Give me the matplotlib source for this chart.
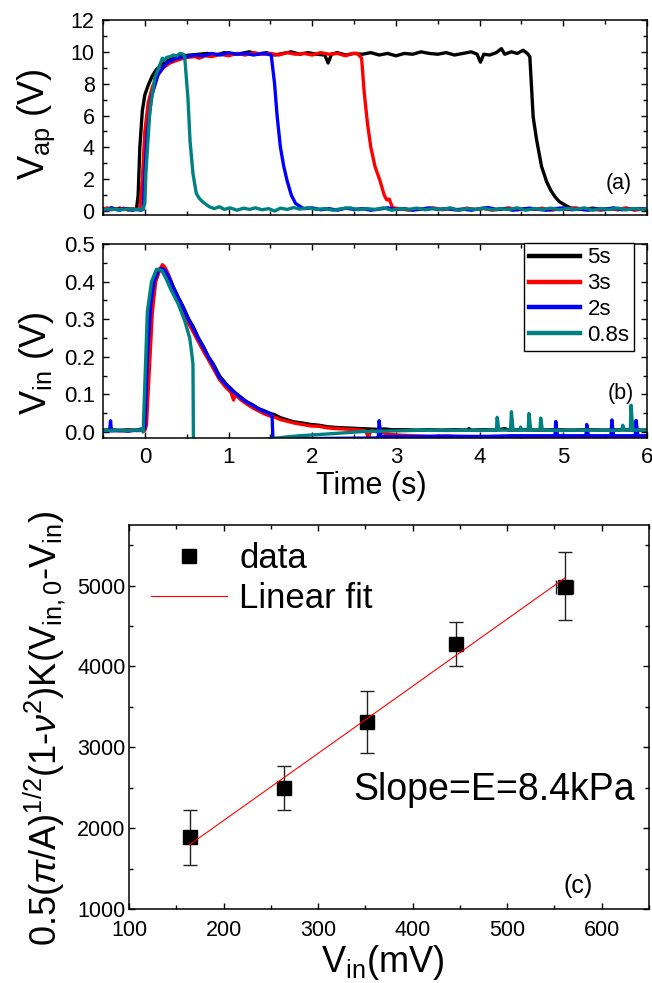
import matplotlib
matplotlib.use('Agg')
import matplotlib.pyplot as plt
from matplotlib.ticker import MultipleLocator, FormatStrFormatter

plt.rcParams['font.family'] = ['Liberation Sans', 'DejaVu Sans']
plt.rcParams['mathtext.fontset'] = 'custom'
plt.rcParams['mathtext.rm'] = 'Liberation Sans'
plt.rcParams['mathtext.it'] = 'Liberation Sans:italic'
plt.rcParams['mathtext.bf'] = 'Liberation Sans:bold'

# ---------------- data: panel (a)  V_ap vs time ----------------
series_labels = ['5s', '3s', '2s', '0.8s']
series_colors = ['#000000', '#ff0000', '#0000ff', '#008080']

vap_5s = [(-0.50, 0.15), (-0.45, 0.10), (-0.40, 0.20), (-0.35, 0.12), (-0.30, 0.18), (-0.25, 0.10),
          (-0.20, 0.15), (-0.15, 0.08), (-0.10, 0.12), (-0.08, 1.0), (-0.06, 4.0), (-0.03, 6.3),
          (0.00, 7.3), (0.04, 7.9), (0.09, 8.5), (0.14, 8.9), (0.20, 9.2), (0.27, 9.45), (0.35, 9.6),
          (0.45, 9.75), (0.55, 9.8), (0.65, 9.85), (0.75, 9.9), (0.85, 9.8), (0.95, 9.95), (1.05, 9.85),
          (1.15, 9.9), (1.25, 10.0), (1.35, 9.85), (1.45, 9.95), (1.55, 9.8), (1.65, 9.9), (1.75, 10.0),
          (1.85, 9.85), (1.95, 9.95), (2.05, 9.85), (2.15, 9.8), (2.19, 9.3), (2.23, 9.85), (2.30, 9.95),
          (2.40, 9.8), (2.50, 9.9), (2.60, 9.85), (2.70, 9.95), (2.80, 9.8), (2.90, 9.9), (3.00, 9.75),
          (3.10, 9.9), (3.20, 9.85), (3.30, 10.0), (3.40, 9.9), (3.50, 9.85), (3.60, 9.95), (3.70, 9.8),
          (3.80, 9.9), (3.90, 10.0), (3.97, 9.85), (4.01, 9.35), (4.05, 9.85), (4.12, 9.8), (4.20, 9.95),
          (4.26, 10.2), (4.30, 9.85), (4.38, 10.0), (4.45, 9.9), (4.52, 10.1), (4.57, 9.9), (4.60, 9.7),
          (4.64, 5.9), (4.68, 4.5), (4.74, 2.8), (4.80, 1.85), (4.85, 1.3), (4.90, 0.9), (4.95, 0.6),
          (5.00, 0.44), (5.08, 0.2), (5.15, 0.15), (5.25, 0.1), (5.35, 0.18), (5.45, 0.1), (5.55, 0.15),
          (5.65, 0.08), (5.75, 0.15), (5.85, 0.1), (5.95, 0.12), (6.00, 0.1)]

vap_3s = [(-0.50, 0.12), (-0.45, 0.2), (-0.40, 0.08), (-0.35, 0.15), (-0.30, 0.1), (-0.25, 0.18),
          (-0.20, 0.05), (-0.15, 0.15), (-0.10, 0.1), (-0.06, 0.12), (-0.03, 2.0), (0.00, 5.0),
          (0.04, 6.8), (0.09, 7.8), (0.15, 8.5), (0.22, 9.0), (0.30, 9.3), (0.40, 9.5), (0.50, 9.65),
          (0.60, 9.7), (0.65, 9.6), (0.72, 9.75), (0.80, 9.7), (0.90, 9.85), (1.00, 9.75), (1.10, 9.9),
          (1.20, 9.8), (1.30, 9.95), (1.40, 9.85), (1.50, 9.9), (1.60, 9.8), (1.70, 9.95), (1.80, 9.85),
          (1.90, 9.9), (2.00, 9.8), (2.10, 9.95), (2.20, 9.85), (2.30, 9.9), (2.40, 9.75), (2.48, 9.9),
          (2.54, 9.9), (2.59, 9.6), (2.62, 7.5), (2.66, 5.5), (2.70, 4.0), (2.75, 2.8), (2.81, 1.9),
          (2.86, 1.0), (2.89, 0.7), (2.92, 0.75), (2.96, 0.2), (3.05, 0.15), (3.15, 0.05), (3.25, 0.15),
          (3.35, 0.1), (3.45, 0.2), (3.55, 0.08), (3.65, 0.15), (3.75, 0.05), (3.85, 0.18), (3.95, 0.1),
          (4.05, 0.15), (4.15, 0.05), (4.25, 0.12), (4.35, 0.2), (4.45, 0.08), (4.55, 0.15), (4.65, 0.1),
          (4.75, 0.18), (4.85, 0.05), (4.95, 0.12), (5.05, 0.1), (5.15, 0.2), (5.25, 0.08), (5.35, 0.12),
          (5.45, 0.05), (5.55, 0.15), (5.65, 0.1), (5.75, 0.2), (5.85, 0.05), (5.95, 0.12), (6.00, 0.1)]

vap_2s = [(-0.50, 0.1), (-0.45, 0.05), (-0.40, 0.2), (-0.35, 0.1), (-0.30, 0.05), (-0.25, 0.15),
          (-0.20, 0.1), (-0.15, 0.05), (-0.10, 0.1), (-0.05, 0.05), (-0.02, 0.1), (0.00, 2.4),
          (0.03, 4.9), (0.08, 7.2), (0.16, 8.6), (0.26, 9.3), (0.38, 9.6), (0.50, 9.7), (0.60, 9.8),
          (0.70, 9.75), (0.80, 9.9), (0.90, 9.8), (1.00, 9.95), (1.10, 9.85), (1.20, 9.9), (1.30, 9.8),
          (1.40, 9.9), (1.47, 9.85), (1.51, 9.8), (1.55, 8.0), (1.58, 6.0), (1.62, 4.0), (1.66, 2.8),
          (1.70, 1.9), (1.75, 1.0), (1.80, 0.48), (1.86, 0.27), (1.90, 0.15), (2.00, 0.2), (2.10, 0.08),
          (2.20, 0.15), (2.30, 0.05), (2.40, 0.18), (2.50, 0.1), (2.60, 0.15), (2.70, 0.05), (2.80, 0.12),
          (2.90, 0.2), (3.00, 0.1), (3.10, 0.15), (3.20, 0.05), (3.30, 0.12), (3.40, 0.2), (3.50, 0.1),
          (3.60, 0.15), (3.70, 0.08), (3.80, 0.12), (3.90, 0.05), (4.00, 0.15), (4.10, 0.22), (4.20, 0.1),
          (4.30, 0.15), (4.40, 0.05), (4.50, 0.12), (4.60, 0.18), (4.70, 0.1), (4.80, 0.05), (4.90, 0.15),
          (5.00, 0.2), (5.10, 0.08), (5.20, 0.12), (5.30, 0.05), (5.40, 0.15), (5.50, 0.1), (5.60, 0.2),
          (5.70, 0.08), (5.80, 0.12), (5.90, 0.15), (6.00, 0.1)]

vap_08s = [(-0.50, 0.1), (-0.40, 0.12), (-0.30, 0.08), (-0.20, 0.12), (-0.10, 0.1), (-0.02, 0.1),
           (0.00, 0.5), (0.012, 2.35), (0.06, 6.3), (0.12, 8.4), (0.18, 9.2), (0.21, 9.6), (0.23, 9.45),
           (0.26, 9.65), (0.30, 9.7), (0.34, 9.8), (0.38, 9.75), (0.42, 9.9), (0.46, 9.85), (0.476, 9.7),
           (0.516, 7.0), (0.54, 4.4), (0.575, 2.35), (0.615, 1.1), (0.65, 0.8), (0.69, 0.58), (0.77, 0.27),
           (0.83, 0.15), (0.89, 0.27), (0.95, 0.1), (1.02, 0.2), (1.10, 0.05), (1.18, 0.18), (1.25, 0.1),
           (1.32, 0.2), (1.40, 0.08), (1.48, 0.15), (1.55, 0.0), (1.62, 0.18), (1.70, 0.1), (1.78, 0.22),
           (1.85, 0.12), (1.95, 0.2), (2.05, 0.1), (2.15, 0.15), (2.25, 0.05), (2.35, 0.15), (2.45, 0.2),
           (2.55, 0.08), (2.65, 0.15), (2.75, 0.1), (2.85, 0.2), (2.95, 0.05), (3.05, 0.15), (3.15, 0.1),
           (3.25, 0.18), (3.35, 0.08), (3.45, 0.15), (3.55, 0.1), (3.65, 0.2), (3.75, 0.05), (3.85, 0.15),
           (3.95, 0.1), (4.05, 0.18), (4.15, 0.08), (4.25, 0.15), (4.35, 0.1), (4.45, 0.2), (4.55, 0.05),
           (4.65, 0.15), (4.75, 0.1), (4.85, 0.18), (4.95, 0.08), (5.05, 0.15), (5.15, 0.1), (5.25, 0.2),
           (5.35, 0.05), (5.45, 0.15), (5.55, 0.1), (5.65, 0.18), (5.75, 0.08), (5.85, 0.15), (5.95, 0.1),
           (6.00, 0.12)]

# ---------------- data: panel (b)  V_in vs time ----------------
vin_5s = [(-0.50, 0.005), (-0.40, 0.006), (-0.30, 0.004), (-0.20, 0.006), (-0.10, 0.004), (-0.01, 0.005),
          (0.02, 0.10), (0.05, 0.28), (0.08, 0.37), (0.12, 0.415), (0.18, 0.435), (0.22, 0.433),
          (0.26, 0.425), (0.30, 0.408), (0.34, 0.386), (0.40, 0.358), (0.46, 0.332), (0.52, 0.302),
          (0.58, 0.279), (0.64, 0.25), (0.70, 0.227), (0.76, 0.2), (0.82, 0.18), (0.89, 0.15),
          (0.97, 0.128), (1.04, 0.113), (1.09, 0.102), (1.15, 0.092), (1.22, 0.08), (1.29, 0.072),
          (1.36, 0.062), (1.43, 0.056), (1.49, 0.05), (1.55, 0.046), (1.62, 0.038), (1.69, 0.033),
          (1.78, 0.027), (1.88, 0.024), (1.98, 0.02), (2.08, 0.018), (2.18, 0.014), (2.28, 0.012),
          (2.38, 0.011), (2.48, 0.01), (2.58, 0.009), (2.68, 0.008), (2.78, 0.007), (2.87, 0.008),
          (2.95, 0.006), (3.10, 0.006), (3.25, 0.005), (3.40, 0.006), (3.55, 0.005), (3.70, 0.006),
          (3.86, 0.005), (3.87, 0.009), (3.90, 0.005), (4.05, 0.006), (4.20, 0.005), (4.30, 0.009),
          (4.35, 0.005), (4.50, 0.006), (4.70, 0.005), (4.90, 0.006), (5.10, 0.005), (5.30, 0.006),
          (5.50, 0.005), (5.70, 0.006), (5.90, 0.005), (6.00, 0.005)]

vin_3s = [(-0.50, 0.004), (-0.40, 0.005), (-0.30, 0.003), (-0.20, 0.005), (-0.10, 0.004), (0.00, 0.004),
          (0.02, 0.02), (0.05, 0.15), (0.09, 0.32), (0.13, 0.40), (0.18, 0.432), (0.21, 0.445),
          (0.24, 0.438), (0.28, 0.42), (0.34, 0.38), (0.40, 0.352), (0.46, 0.322), (0.52, 0.29),
          (0.58, 0.265), (0.64, 0.24), (0.70, 0.215), (0.76, 0.192), (0.82, 0.168), (0.89, 0.14),
          (0.97, 0.118), (1.03, 0.105), (1.06, 0.085), (1.08, 0.1), (1.15, 0.085), (1.22, 0.074),
          (1.29, 0.064), (1.36, 0.056), (1.43, 0.048), (1.50, 0.042), (1.55, 0.04), (1.62, 0.033),
          (1.69, 0.029), (1.78, 0.024), (1.88, 0.02), (1.98, 0.016), (2.08, 0.015), (2.18, 0.011),
          (2.28, 0.009), (2.38, 0.008), (2.48, 0.0065), (2.58, 0.005), (2.64, 0.003), (2.67, -0.015),
          (2.70, 0.003), (2.80, 0.0), (2.90, -0.005), (3.00, -0.008), (3.20, -0.01), (3.40, -0.012),
          (3.60, -0.011), (3.80, -0.013), (4.00, -0.012), (4.20, -0.013), (4.40, -0.011), (4.60, -0.013),
          (4.80, -0.012), (5.00, -0.013), (5.20, -0.012), (5.40, -0.013), (5.60, -0.012), (5.80, -0.013),
          (6.00, -0.012)]

vin_2s = [(-0.50, 0.003), (-0.42, 0.003), (-0.41, 0.03), (-0.40, 0.003), (-0.30, 0.004), (-0.20, 0.002),
          (-0.10, 0.005), (0.00, 0.01), (0.03, 0.2), (0.07, 0.34), (0.11, 0.40), (0.16, 0.428),
          (0.20, 0.435), (0.24, 0.43), (0.28, 0.415), (0.34, 0.384), (0.40, 0.356), (0.46, 0.33),
          (0.52, 0.3), (0.58, 0.276), (0.64, 0.248), (0.70, 0.225), (0.76, 0.199), (0.82, 0.177),
          (0.89, 0.145), (0.97, 0.126), (1.04, 0.11), (1.09, 0.102), (1.15, 0.09), (1.22, 0.079),
          (1.29, 0.071), (1.36, 0.061), (1.43, 0.054), (1.49, 0.049), (1.52, 0.045), (1.53, -0.017),
          (1.80, -0.018), (2.20, -0.017), (2.78, -0.016), (2.79, -0.012), (2.80, 0.03), (2.82, -0.012),
          (3.20, -0.012), (3.60, -0.011), (4.00, -0.012), (4.40, -0.01), (4.90, -0.01), (4.91, 0.028),
          (4.93, -0.01), (5.27, -0.01), (5.28, 0.02), (5.30, -0.01), (5.57, -0.01), (5.58, 0.032),
          (5.60, -0.01), (5.86, -0.01), (5.87, 0.031), (5.89, -0.01), (6.00, -0.01)]

vin_08s = [(-0.50, 0.005), (-0.40, 0.004), (-0.30, 0.005), (-0.20, 0.004), (-0.10, 0.005), (-0.03, 0.005),
           (-0.02, 0.0), (0.03, 0.32), (0.08, 0.40), (0.14, 0.433), (0.20, 0.43), (0.25, 0.41),
           (0.30, 0.384), (0.35, 0.362), (0.40, 0.34), (0.476, 0.296), (0.536, 0.25), (0.56, 0.21),
           (0.575, 0.18), (0.58, -0.013), (0.60, -0.03), (1.00, -0.03), (1.55, -0.017), (1.70, -0.013),
           (1.85, -0.01), (2.00, -0.008), (2.20, -0.005), (2.40, -0.002), (2.60, 0.001), (2.80, 0.002),
           (3.00, 0.003), (3.20, 0.004), (3.40, 0.005), (3.60, 0.004), (3.80, 0.005), (4.00, 0.004),
           (4.20, 0.005), (4.21, 0.039), (4.23, 0.005), (4.37, 0.005), (4.38, 0.054), (4.40, 0.005),
           (4.48, 0.005), (4.49, 0.013), (4.50, 0.005), (4.58, 0.005), (4.59, 0.049), (4.61, 0.005),
           (4.72, 0.005), (4.73, 0.037), (4.75, 0.005), (5.00, 0.004), (5.30, 0.005), (5.60, 0.004),
           (5.70, 0.005), (5.71, 0.018), (5.73, 0.005), (5.80, 0.005), (5.81, 0.071), (5.83, 0.005),
           (6.00, 0.005)]

# ---------------- data: panel (c) ----------------
vin_mV = [164, 264, 352, 446, 561]
stress = [1891, 2497, 3308, 4282, 4979]
stress_err_low = [341, 277, 378, 272, 409]
stress_err_high = [337, 276, 384, 263, 432]
vin_err = [0, 0, 0, 0, 9]
fit_x = [164, 561]
fit_slope = 8.31
fit_intercept = 432

vap_series = [vap_5s, vap_3s, vap_2s, vap_08s]
vin_series = [vin_5s, vin_3s, vin_2s, vin_08s]

W, H = 652, 983
fig = plt.figure(figsize=(W / 100, H / 100), dpi=100)


def frac(l, t, r, b):
    return [l / W, 1 - b / H, (r - l) / W, (b - t) / H]


def fig_px(x, y):
    return (x / W, 1 - y / H)


ax_a = fig.add_axes(frac(103, 20, 647, 215))
ax_b = fig.add_axes(frac(103, 244, 647, 438))
ax_c = fig.add_axes(frac(129, 525, 649, 909))

LW = 2.4
for data, col, lab in zip(vap_series, series_colors, series_labels):
    t, v = zip(*data)
    ax_a.plot(t, v, color=col, lw=LW, label=lab, solid_joinstyle='round')
for data, col, lab in zip(vin_series, series_colors, series_labels):
    t, v = zip(*data)
    ax_b.plot(t, v, color=col, lw=LW, label=lab, solid_joinstyle='round')

for ax in (ax_a, ax_b, ax_c):
    for s in ax.spines.values():
        s.set_linewidth(1.1)
    ax.tick_params(which='both', direction='in', top=True, right=True, width=1.0)
    ax.tick_params(which='major', length=4.5)
    ax.tick_params(which='minor', length=3.0)

ax_a.set_xlim(-0.5, 6)
ax_a.set_ylim(-0.25, 12)
ax_a.xaxis.set_major_locator(MultipleLocator(1))
ax_a.xaxis.set_minor_locator(MultipleLocator(0.5))
ax_a.yaxis.set_major_locator(MultipleLocator(2))
ax_a.yaxis.set_minor_locator(MultipleLocator(1))
ax_a.tick_params(axis='x', labelbottom=False)
ax_a.tick_params(axis='y', labelsize=15.5, pad=6)
ax_a.set_ylabel(r'V$_{\mathrm{ap}}$ (V)', fontsize=26, va='center')
ax_a.yaxis.set_label_coords(-0.123, 0.467)
fig.text(*fig_px(619, 184), '(a)', fontsize=15.5, ha='center', va='center')

ax_b.set_xlim(-0.5, 6)
ax_b.set_ylim(-0.016, 0.5)
ax_b.xaxis.set_major_locator(MultipleLocator(1))
ax_b.xaxis.set_minor_locator(MultipleLocator(0.5))
ax_b.yaxis.set_major_locator(MultipleLocator(0.1))
ax_b.yaxis.set_minor_locator(MultipleLocator(0.05))
ax_b.yaxis.set_major_formatter(FormatStrFormatter('%.1f'))
ax_b.tick_params(axis='y', labelsize=16, pad=6)
ax_b.tick_params(axis='x', labelsize=16, pad=6.5)
ax_b.set_ylabel(r'V$_{\mathrm{in}}$ (V)', fontsize=26, va='center')
ax_b.yaxis.set_label_coords(-0.123, 0.387)
ax_b.set_xlabel('Time (s)', fontsize=22, va='center')
ax_b.xaxis.set_label_coords(0.493, -0.245)
fig.text(*fig_px(621, 393), '(b)', fontsize=15.5, ha='center', va='center')
leg_b = ax_b.legend(loc='upper right', bbox_to_anchor=((634 - 103) / 544, 1.005), borderaxespad=0,
                    fontsize=16, handlelength=2.3, handletextpad=0.35, labelspacing=0.22,
                    borderpad=0.2, fancybox=False, edgecolor='black', framealpha=1)
leg_b.get_frame().set_linewidth(1.0)
for ln in leg_b.get_lines():
    ln.set_linewidth(3.2)

# panel (c)
ax_c.errorbar(vin_mV, stress, yerr=[stress_err_low, stress_err_high], xerr=vin_err, fmt='none',
              ecolor='#222222', elinewidth=1.0, capsize=5, capthick=1.0, zorder=2)
ax_c.plot(vin_mV, stress, ls='none', marker='s', ms=10.5, color='black', label='data', zorder=3)
fit_y = [fit_slope * x + fit_intercept for x in fit_x]
ax_c.plot(fit_x, fit_y, color='red', lw=0.8, label='Linear fit', zorder=4)
ax_c.set_xlim(100, 650)
ax_c.set_ylim(1000, 5750)
ax_c.xaxis.set_major_locator(MultipleLocator(100))
ax_c.xaxis.set_minor_locator(MultipleLocator(50))
ax_c.yaxis.set_major_locator(MultipleLocator(1000))
ax_c.yaxis.set_minor_locator(MultipleLocator(500))
ax_c.tick_params(axis='both', labelsize=15.5)
ax_c.tick_params(axis='y', pad=2.5)
ax_c.tick_params(axis='x', pad=8)
ax_c.set_ylabel(r'0.5($\pi$/A)$^{\mathrm{1/2}}$(1-$\nu^{\mathrm{2}}$)K(V$_{\mathrm{in,0}}$-V$_{\mathrm{in}}$)',
                fontsize=26, va='center')
ax_c.yaxis.set_label_coords(-0.1615, 0.471)
ax_c.set_xlabel(r'V$_{\mathrm{in}}$(mV)', fontsize=26, va='center')
ax_c.xaxis.set_label_coords(0.488, -0.14)
ax_c.legend(loc='upper left', bbox_to_anchor=(0.042, 0.955), borderaxespad=0, borderpad=0,
            fontsize=25, handlelength=2.2, handletextpad=0.35, labelspacing=0.2, frameon=False)
fig.text(*fig_px(494, 790), 'Slope=E=8.4kPa', fontsize=27, ha='center', va='center')
fig.text(*fig_px(578, 886), '(c)', fontsize=18, ha='center', va='center')

fig.savefig('out.png', dpi=100)
